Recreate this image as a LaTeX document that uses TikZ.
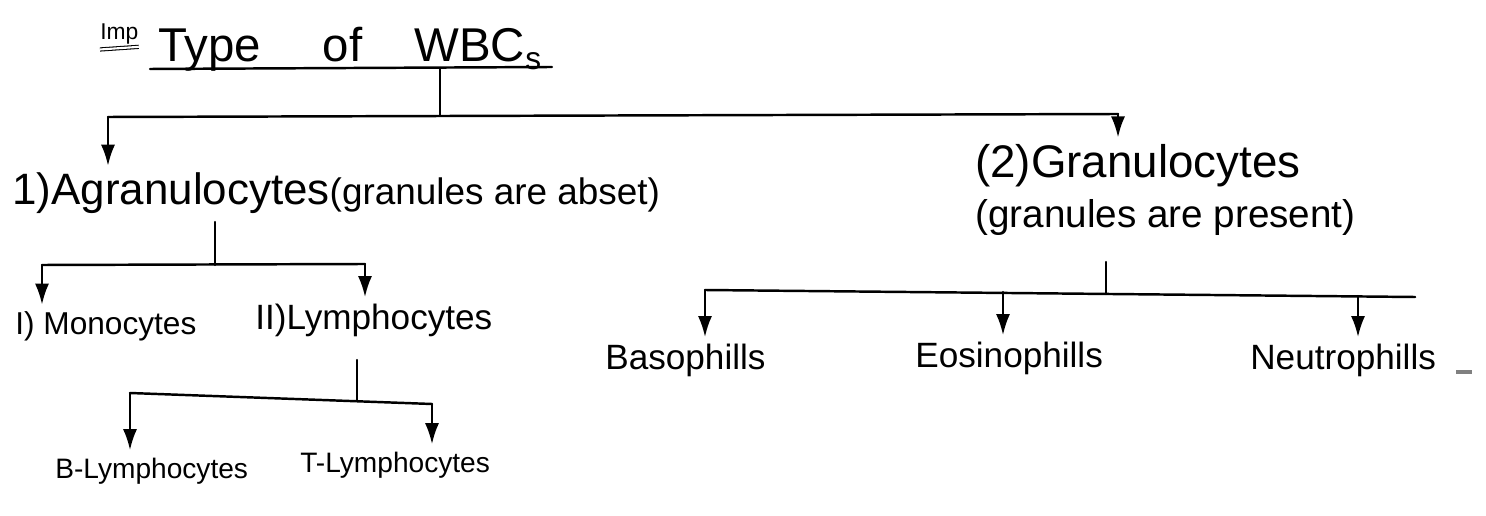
\documentclass[tikz,border=0pt]{standalone}
\usepackage{fontspec}
\setmainfont{Liberation Sans}
\usetikzlibrary{arrows.meta}
\begin{document}
\begin{tikzpicture}[x=0.02cm,y=-0.02cm,
  wire/.style={line width=1.4pt, line cap=round, line join=round},
  lbl/.style={inner sep=0pt, anchor=base west},
  arr/.style={wire, -{Latex[length=12pt,width=8pt]}, shorten >=4pt}]
\useasboundingbox (0,0) rectangle (1486,516);
% title
\node[lbl, font=\fontsize{13}{15}\selectfont] (imp) at (100,40) {Imp};
\draw[double, line width=0.6pt, double distance=1.2pt] ([yshift=-2.5pt]imp.south west) -- ([yshift=-1pt]imp.south east);
\node[lbl, font=\fontsize{27}{32}\selectfont] (title) at (158,62) {Type\hspace{1.3em}of\hspace{1.1em}WBC\raisebox{-0.15em}{\fontsize{18}{20}\selectfont s}};
\coordinate (ulL) at (150,69); \coordinate (ulR) at (552,67);
\draw[wire] (ulL) -- (ulR);
\coordinate (t0) at (440,68); \coordinate (t1) at (440,115);
\draw[wire] (t0) -- (t1);
\coordinate (hL) at (108,117); \coordinate (hR) at (1118,114);
\draw[wire] (hL) -- (hR);
% level 1
\node[lbl] (agr) at (12,205) {{\fontsize{25}{30}\selectfont 1)Agranulocytes}{\fontsize{21}{25}\selectfont(granules are abset)}};
\node[lbl, font=\fontsize{26}{30}\selectfont] (gran) at (975,178) {(2)Granulocytes};
\node[lbl, font=\fontsize{22}{26}\selectfont] (grannote) at (975,228) {(granules are present)};
\draw[arr] (hL) -- (hL |- agr.north);
\draw[arr] (hR) -- (hR |- gran.north);
% agranulocytes
\coordinate (a0) at (215,222); \coordinate (a1) at (215,265);
\draw[wire] (a0) -- (a1);
\coordinate (aL) at (42,265); \coordinate (aR) at (365,264);
\draw[wire] (aL) -- (aR);
\node[lbl, font=\fontsize{18}{22}\selectfont] (mono) at (15,335) {I) Monocytes};
\node[lbl, font=\fontsize{20}{24}\selectfont] (lymph) at (255,330) {II)Lymphocytes};
\draw[arr] (aL) -- (aL |- mono.north);
\draw[arr] (aR) -- (aR |- lymph.north);
% lymphocytes
\coordinate (l0) at (357,360); \coordinate (l1) at (357,401);
\draw[wire] (l0) -- (l1);
\coordinate (lL) at (130,393); \coordinate (lR) at (432,404);
\draw[wire] (lL) -- (lR);
\node[lbl, font=\fontsize{16}{20}\selectfont] (blym) at (55,478) {B-Lymphocytes};
\node[lbl, font=\fontsize{16}{20}\selectfont] (tlym) at (300,472) {T-Lymphocytes};
\draw[arr] (lL) -- (lL |- blym.north);
\draw[arr] (lR) -- (lR |- tlym.north);
% granulocytes
\coordinate (g0) at (1106,262); \coordinate (g1) at (1106,294);
\draw[wire] (g0) -- (g1);
\coordinate (gL) at (705,290); \coordinate (gE) at (1003,292); \coordinate (gN) at (1358,296); \coordinate (gR) at (1415,297);
\draw[wire] (gL) -- (gR);
\node[lbl, font=\fontsize{20}{24}\selectfont] (baso) at (605,370) {Basophills};
\node[lbl, font=\fontsize{20}{24}\selectfont] (eosi) at (915,368) {Eosinophills};
\node[lbl, font=\fontsize{20}{24}\selectfont] (neut) at (1250,370) {Neutrophills};
\draw[arr] (gL) -- (gL |- baso.north);
\draw[arr] (gE) -- (gE |- eosi.north);
\draw[arr] (gN) -- (gN |- neut.north);
\coordinate (d0) at (1456,372); \coordinate (d1) at (1472,372);
\draw[gray, line width=2pt] (d0) -- (d1);
\end{tikzpicture}
\end{document}
